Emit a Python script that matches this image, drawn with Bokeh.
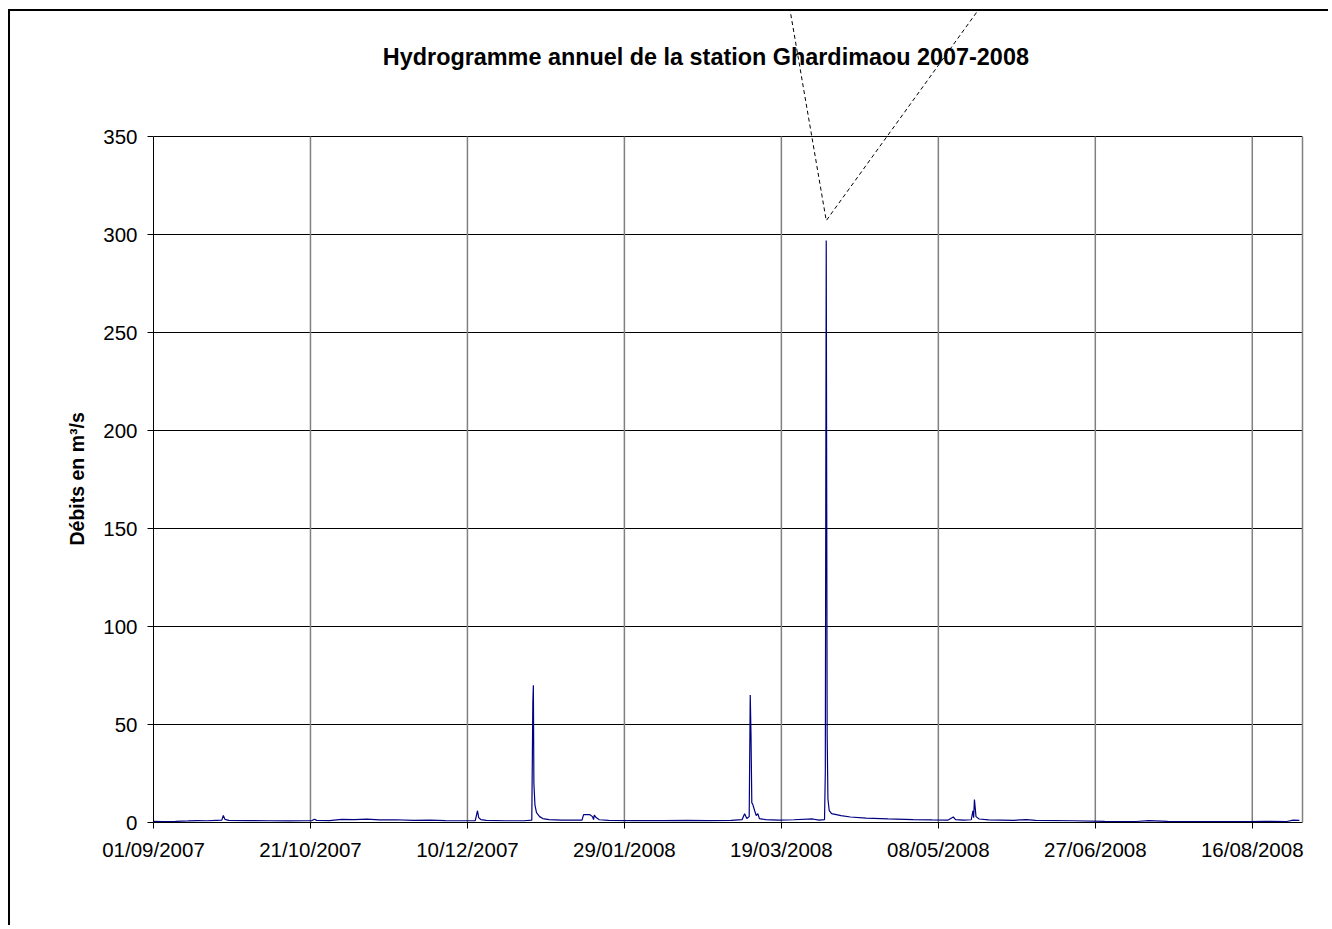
import pandas as pd
from bokeh.plotting import figure
from bokeh.models import FixedTicker, LinearAxis, Label, Range1d, Title
from bokeh.embed import file_html
from bokeh.resources import INLINE

# ---------------- data ----------------
title_text = "Hydrogramme annuel de la station Ghardimaou 2007-2008"
y_label = "Débits en m³/s"
x_tick_labels = ["01/09/2007", "21/10/2007", "10/12/2007", "29/01/2008",
                 "19/03/2008", "08/05/2008", "27/06/2008", "16/08/2008"]
y_ticks = [0, 50, 100, 150, 200, 250, 300, 350]

dates = [
    "2007-09-01 00:00", "2007-09-04", "2007-09-08", "2007-09-12", "2007-09-15",
    "2007-09-18", "2007-09-21", "2007-09-22 18:00", "2007-09-23 06:00", "2007-09-23 18:00",
    "2007-09-25", "2007-10-01", "2007-10-08", "2007-10-14", "2007-10-19",
    "2007-10-21 12:00", "2007-10-22 06:00", "2007-10-23", "2007-10-27", "2007-10-31",
    "2007-11-04", "2007-11-08", "2007-11-12", "2007-11-17", "2007-11-23",
    "2007-11-28", "2007-12-03", "2007-12-08", "2007-12-12 12:00", "2007-12-13 05:00",
    "2007-12-13 14:00", "2007-12-14 06:00", "2007-12-16", "2007-12-22", "2007-12-28",
    "2007-12-30 12:00", "2007-12-30 20:00", "2007-12-31 00:00", "2007-12-31 04:00", "2007-12-31 12:00",
    "2008-01-01 00:00", "2008-01-02", "2008-01-03", "2008-01-05", "2008-01-09",
    "2008-01-15 12:00", "2008-01-16 00:00", "2008-01-18 00:00", "2008-01-18 20:00", "2008-01-19 04:00",
    "2008-01-19 10:00", "2008-01-20 00:00", "2008-01-21", "2008-01-24", "2008-02-01",
    "2008-02-10", "2008-02-18", "2008-02-25", "2008-03-03", "2008-03-06 12:00",
    "2008-03-07 07:00", "2008-03-08 00:00", "2008-03-08 18:00", "2008-03-09 02:00", "2008-03-09 08:00",
    "2008-03-09 14:00", "2008-03-09 20:00", "2008-03-10 12:00", "2008-03-11 00:00", "2008-03-11 12:00",
    "2008-03-12", "2008-03-14", "2008-03-18", "2008-03-23", "2008-03-29",
    "2008-03-31", "2008-04-01 18:00", "2008-04-02 00:00", "2008-04-02 07:00", "2008-04-02 14:00",
    "2008-04-02 20:00", "2008-04-03 06:00", "2008-04-04", "2008-04-07", "2008-04-10",
    "2008-04-15", "2008-04-22", "2008-04-30", "2008-05-06", "2008-05-11",
    "2008-05-12 18:00", "2008-05-13 12:00", "2008-05-16", "2008-05-18 12:00", "2008-05-19 00:00",
    "2008-05-19 06:00", "2008-05-19 12:00", "2008-05-20 00:00", "2008-05-21", "2008-05-24",
    "2008-06-01", "2008-06-05", "2008-06-08", "2008-06-20", "2008-06-30",
    "2008-07-10", "2008-07-14", "2008-07-20", "2008-08-05", "2008-08-15",
    "2008-08-20", "2008-08-27", "2008-08-29", "2008-08-31",
]
debits = [
    0.6, 0.5, 0.6, 0.8, 1.0,
    0.9, 1.1, 1.2, 3.6, 1.6,
    1.1, 1.0, 0.9, 0.8, 0.9,
    1.0, 1.7, 1.1, 1.0, 1.6,
    1.5, 1.7, 1.3, 1.4, 1.1,
    1.2, 1.0, 0.9, 1.0, 6.0,
    2.5, 1.5, 1.1, 0.9, 0.9,
    1.2, 61.0, 70.0, 20.0, 9.0,
    5.0, 3.0, 2.0, 1.5, 1.2,
    1.2, 4.0, 4.0, 3.0, 1.5,
    3.8, 2.5, 1.4, 1.1, 1.0,
    1.0, 1.1, 1.0, 1.1, 1.5,
    4.5, 2.0, 3.0, 65.0, 44.0,
    10.0, 9.5, 6.0, 3.5, 4.5,
    2.0, 1.5, 1.2, 1.4, 1.8,
    1.2, 1.5, 26.0, 297.0, 45.0,
    12.0, 6.0, 4.5, 3.5, 2.8,
    2.2, 1.8, 1.5, 1.3, 1.2,
    2.8, 1.5, 1.2, 1.4, 6.0,
    2.5, 11.7, 3.0, 1.8, 1.3,
    1.1, 1.5, 1.1, 0.9, 0.6,
    0.5, 1.0, 0.6, 0.5, 0.4,
    0.6, 0.5, 1.2, 1.1,
]

# ---------------- derived ----------------
start = pd.to_datetime(x_tick_labels[0], dayfirst=True)
end = pd.Timestamp("2008-09-01")
day = pd.Timedelta(days=1)
x_days = list((pd.to_datetime(dates, format="ISO8601") - start) / day)
x_ticks = [float((pd.to_datetime(t, dayfirst=True) - start) / day) for t in x_tick_labels]
x_end = float((end - start) / day)

FONT = "Liberation Sans"
W, H = 1320, 916
FRAME_H = 811            # frame from canvas top down to the zero line
PX_PER_UNIT = 1.96
y_top = FRAME_H / PX_PER_UNIT

p = figure(width=W, height=H, output_backend="svg", toolbar_location=None,
           x_range=Range1d(0, x_end), y_range=Range1d(0, y_top),
           min_border_left=143, min_border_right=W - 143 - 1149, min_border_top=0,
           min_border_bottom=H - FRAME_H)
p.margin = (9, 0, 0, 8)
p.outline_line_color = None
p.background_fill_color = "white"
p.border_fill_color = "white"
p.styles = {"border-left": "2px solid black", "border-top": "2px solid black"}

# y axis
ya = p.yaxis[0]
ya.ticker = FixedTicker(ticks=y_ticks)
ya.bounds = (y_ticks[0], y_ticks[-1])
ya.major_tick_out = 6
ya.major_tick_in = 0
ya.minor_tick_out = 0
ya.minor_tick_in = 0
ya.major_label_standoff = 10
ya.major_label_text_font = FONT
ya.major_label_text_font_size = "20.5px"
ya.major_label_text_color = "black"
ya.axis_line_color = "black"
ya.major_tick_line_color = "black"

# y axis title, placed along the 0..350 span (offset measured from frame bottom)
p.add_layout(Title(text=y_label, align="left", offset=277, vertical_align="middle",
                   standoff=24, text_font=FONT, text_font_style="bold",
                   text_font_size="19.5px", text_color="black"), "left")

# x axis
xa = p.xaxis[0]
xa.ticker = FixedTicker(ticks=x_ticks)
xa.major_label_overrides = {t: lab for t, lab in zip(x_ticks, x_tick_labels)}
xa.major_tick_out = 6
xa.major_tick_in = 0
xa.minor_tick_out = 0
xa.minor_tick_in = 0
xa.major_label_standoff = 9
xa.major_label_text_font = FONT
xa.major_label_text_font_size = "20.5px"
xa.major_label_text_color = "black"
xa.axis_line_color = "black"
xa.major_tick_line_color = "black"

# right border of plot area
rax = LinearAxis(bounds=(y_ticks[0], y_ticks[-1]), ticker=FixedTicker(ticks=[]),
                 axis_line_color="#808080", axis_line_width=1.5,
                 major_tick_out=0, major_tick_in=0, minor_tick_out=0, minor_tick_in=0,
                 major_label_text_font_size="0px")
p.add_layout(rax, "right")

# grids
p.xgrid.visible = False
p.ygrid.ticker = FixedTicker(ticks=y_ticks)
p.ygrid.grid_line_color = "black"
p.ygrid.grid_line_width = 1
p.segment(x0=x_ticks[1:], y0=[y_ticks[0]] * (len(x_ticks) - 1),
          x1=x_ticks[1:], y1=[y_ticks[-1]] * (len(x_ticks) - 1),
          line_color="#808080", line_width=1.5)

# hydrograph
p.line(x=x_days, y=debits, line_color="#000080", line_width=1.2)

# callout connector (dashed V above the main peak)
p.line(x=[201.1, 214.3, 269.7], y=[430, 307.1, 430], line_color="black",
       line_width=1, line_dash="4 3")

# title
p.add_layout(Label(x=175.95, y=390.5, text=title_text, text_align="center",
                   text_baseline="middle", text_font=FONT, text_font_style="bold",
                   text_font_size="23.4px", text_color="black"))

open("out.html", "w").write(file_html(p, INLINE))
